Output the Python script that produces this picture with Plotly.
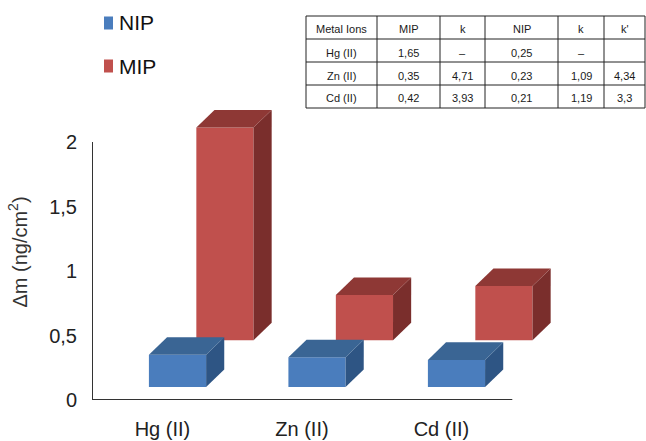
import plotly.graph_objects as go

# --- data -------------------------------------------------------------
ions = ["Hg (II)", "Zn (II)", "Cd (II)"]
nip_values = [0.25, 0.23, 0.21]
mip_values = [1.65, 0.35, 0.42]

y_ticks = [0, 0.5, 1, 1.5, 2]
y_tick_text = ["0", "0,5", "1", "1,5", "2"]

table_header = ["Metal Ions", "MIP", "k", "NIP", "k", "k'"]
table_ions = ["Hg (II)", "Zn (II)", "Cd (II)"]
table_mip = ["1,65", "0,35", "0,42"]
table_k_mip = ["–", "4,71", "3,93"]
table_nip = ["0,25", "0,23", "0,21"]
table_k_nip = ["–", "1,09", "1,19"]
table_k_prime = ["", "4,34", "3,3"]

# --- pseudo-3D geometry (axis units) ---------------------------------
BAR_W = 0.41          # width of the front face
DX, DY = 0.13, 0.136  # depth offset of top / side faces
NIP_BASE = 0.101      # front row sits slightly above the floor edge
MIP_BASE = 0.463      # back row is pushed further into depth
MIP_SHIFT = 0.34      # horizontal shift of the back row

blue = dict(front="#4a7dbd", top="#3a6594", side="#2e5584")
red = dict(front="#c0504d", top="#8e3835", side="#7a2e2c")

fig = go.Figure()


def add_faces(xs, vals, base, col):
    for x, v in zip(xs, vals):
        l, r = x - BAR_W / 2, x + BAR_W / 2
        t = base + v
        # side face
        fig.add_trace(go.Scatter(
            x=[r, r + DX, r + DX, r, r], y=[base, base + DY, t + DY, t, base],
            mode="lines", fill="toself", fillcolor=col["side"],
            line=dict(width=0), hoverinfo="skip", showlegend=False))
        # top face
        fig.add_trace(go.Scatter(
            x=[l, r, r + DX, l + DX, l], y=[t, t, t + DY, t + DY, t],
            mode="lines", fill="toself", fillcolor=col["top"],
            line=dict(width=0), hoverinfo="skip", showlegend=False))


xs_nip = [i for i in range(len(ions))]
xs_mip = [i + MIP_SHIFT for i in range(len(ions))]

# front faces as real bars
fig.add_trace(go.Bar(
    x=xs_mip, y=mip_values, base=[MIP_BASE] * 3, width=BAR_W,
    marker=dict(color=red["front"], line=dict(width=0)),
    name="MIP", showlegend=False))
fig.add_trace(go.Bar(
    x=xs_nip, y=nip_values, base=[NIP_BASE] * 3, width=BAR_W,
    marker=dict(color=blue["front"], line=dict(width=0)),
    name="NIP", showlegend=False))

add_faces(xs_mip, mip_values, MIP_BASE, red)
add_faces(xs_nip, nip_values, NIP_BASE, blue)

X0, X1 = -0.613, 2.785
AXIS_END = 2.4

# axis lines
fig.add_shape(type="line", xref="x", yref="y", x0=X0, x1=X0, y0=0, y1=2,
              line=dict(color="#333333", width=2))
fig.add_shape(type="line", xref="x", yref="y", x0=X0, x1=AXIS_END, y0=0, y1=0,
              line=dict(color="#333333", width=2))

W, H = 646, 441
L, R_, T, B = 92, 80, 104, 41
pw, ph = W - L - R_, H - T - B


def pxx(xp):
    """pixel x -> paper fraction"""
    return (xp - L) / pw


def pyy(yp):
    """pixel y -> paper fraction"""
    return (H - B - yp) / ph


# --- legend -------------------------------------------------------------
legend_items = [("NIP", blue["front"], 23), ("MIP", red["front"], 66)]
for label, colour, yc in legend_items:
    fig.add_shape(type="rect", xref="paper", yref="paper",
                  x0=pxx(104), x1=pxx(113), y0=pyy(yc + 6.5), y1=pyy(yc - 6.5),
                  fillcolor=colour, line=dict(width=0))
    fig.add_annotation(x=pxx(117), y=pyy(yc), xref="paper", yref="paper",
                       text=label, showarrow=False, xanchor="left", yanchor="middle",
                       font=dict(size=21, color="#111111"))

# --- table ------------------------------------------------------------
col_edges = [306, 377, 440, 485, 558, 604, 645]
row_edges = [16, 39, 62, 85, 108]

line_style = dict(color="#222222", width=1)
for xe in col_edges:
    fig.add_shape(type="line", xref="paper", yref="paper",
                  x0=pxx(xe), x1=pxx(xe), y0=pyy(row_edges[0]), y1=pyy(row_edges[-1]),
                  line=line_style)
for ye in row_edges:
    fig.add_shape(type="line", xref="paper", yref="paper",
                  x0=pxx(col_edges[0]), x1=pxx(col_edges[-1]), y0=pyy(ye), y1=pyy(ye),
                  line=line_style)

table_rows = [table_header] + [
    [table_ions[i], table_mip[i], table_k_mip[i], table_nip[i], table_k_nip[i], table_k_prime[i]]
    for i in range(3)
]
for r, row in enumerate(table_rows):
    yc = (row_edges[r] + row_edges[r + 1]) / 2 + 2
    for c, txt in enumerate(row):
        if not txt:
            continue
        xc = (col_edges[c] + col_edges[c + 1]) / 2
        fig.add_annotation(x=pxx(xc), y=pyy(yc), xref="paper", yref="paper",
                           text=txt, showarrow=False, xanchor="center", yanchor="middle",
                           font=dict(size=11, color="#1a1a1a",
                                     family="Liberation Sans, Arial, sans-serif"))

fig.update_layout(
    width=W, height=H,
    margin=dict(l=L, r=R_, t=T, b=B, pad=0, autoexpand=False),
    paper_bgcolor="white", plot_bgcolor="white",
    barmode="overlay",
    font=dict(family="Liberation Sans, Arial, sans-serif", size=20, color="#222222"),
    showlegend=False,
    xaxis=dict(range=[X0, X1], showgrid=False, zeroline=False, showline=False,
               tickmode="array", tickvals=[i - 0.108 for i in range(3)], ticktext=ions,
               ticks="", ticklabelstandoff=15, automargin=False, fixedrange=True),
    yaxis=dict(range=[0, (H - B - T) / 129.0], showgrid=False, zeroline=False,
               showline=False, tickmode="array", tickvals=y_ticks, ticktext=y_tick_text,
               ticks="", ticklabelstandoff=14, automargin=False,
               title=dict(text="Δm (ng/cm<sup>2</sup>)", standoff=16,
                          font=dict(size=20, color="#333333")),
               fixedrange=True),
)

fig.write_html("out.html")
